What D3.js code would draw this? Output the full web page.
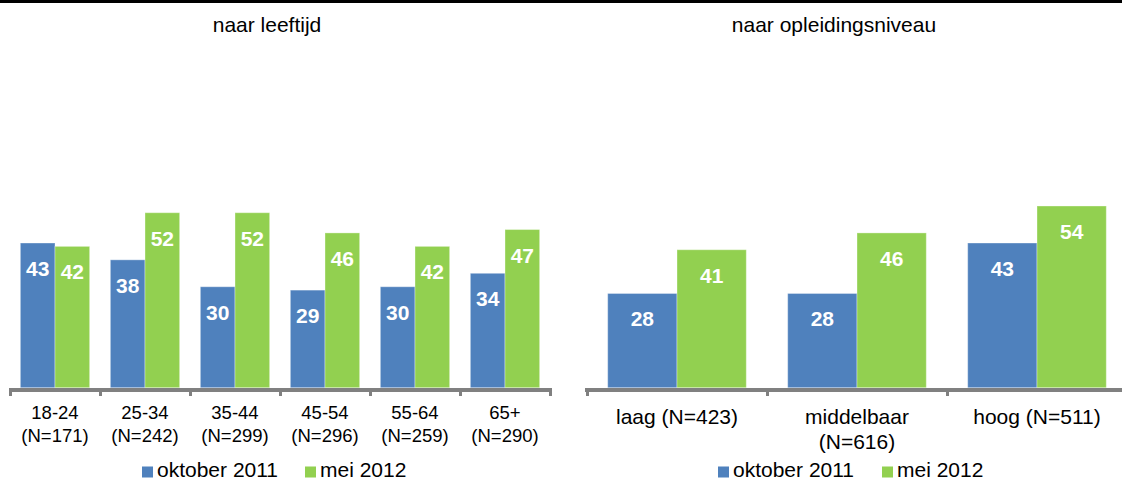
<!DOCTYPE html>
<html>
<head>
<meta charset="utf-8">
<script src="https://cdn.jsdelivr.net/npm/d3@7"></script>
<style>
  body { margin: 0; background: #fff; }
  svg { display: block; font-family: "Liberation Sans", Arial, sans-serif; }
</style>
</head>
<body>
<svg id="chart" width="1122" height="481"></svg>
<script>
// data
var series = ["oktober 2011", "mei 2012"];
var colors = ["#4f81bd", "#92d050"];

var ageCats = ["18-24", "25-34", "35-44", "45-54", "55-64", "65+"];
var ageN = ["(N=171)", "(N=242)", "(N=299)", "(N=296)", "(N=259)", "(N=290)"];
var ageOkt = [43, 38, 30, 29, 30, 34];
var ageMei = [42, 52, 52, 46, 42, 47];

var eduCats = ["laag (N=423)", "middelbaar", "hoog (N=511)"];
var eduLines = [["laag (N=423)"], ["middelbaar", "(N=616)"], ["hoog (N=511)"]];
var eduOkt = [28, 28, 43];
var eduMei = [41, 46, 54];

var svg = d3.select("#chart");

// black rule across the top
svg.append("rect").attr("x", 0).attr("y", 0).attr("width", 1122).attr("height", 3).attr("fill", "#000");

// shared value scale (both panels use the same)
var y = d3.scaleLinear().domain([0, 54]).range([387.7, 387.7 - 54 * 3.365]);

function panel(opts) {
  var g = svg.append("g");
  var x0 = d3.scaleBand().domain(opts.cats).range(opts.range).paddingInner(0.23).paddingOuter(0.115);
  var x1 = d3.scaleBand().domain(series).range([0, x0.bandwidth()]);

  var rows = opts.cats.map(function (c, i) {
    return { cat: c, vals: [opts.a[i], opts.b[i]] };
  });

  var grp = g.selectAll("g.cat").data(rows).enter().append("g")
    .attr("transform", function (d) { return "translate(" + x0(d.cat) + ",0)"; });

  grp.selectAll("rect").data(function (d) {
    return d.vals.map(function (v, j) { return { s: series[j], v: v, j: j }; });
  }).enter().append("rect")
    .attr("x", function (d) { return x1(d.s); })
    .attr("y", function (d) { return y(d.v); })
    .attr("width", x1.bandwidth())
    .attr("height", function (d) { return y(0) - y(d.v); })
    .attr("fill", function (d) { return colors[d.j]; })
    .attr("stroke", "#fff").attr("stroke-opacity", 0.35).attr("stroke-width", 1);

  grp.selectAll("text").data(function (d) {
    return d.vals.map(function (v, j) { return { s: series[j], v: v }; });
  }).enter().append("text")
    .attr("x", function (d) { return x1(d.s) + x1.bandwidth() / 2; })
    .attr("y", function (d) { return y(d.v) + 33; })
    .attr("text-anchor", "middle")
    .attr("fill", "#fff").attr("font-weight", "bold").attr("font-size", 21)
    .text(function (d) { return d.v; });

  // axis line + ticks
  g.append("rect").attr("x", opts.axisStart).attr("y", 388).attr("width", opts.axisEnd - opts.axisStart)
    .attr("height", 4).attr("fill", "#808080");
  var step = x0.step();
  var ticks = d3.range(opts.cats.length + 1).map(function (i) { return opts.range[0] + i * step; });
  g.selectAll("rect.tick").data(ticks).enter().append("rect").attr("class", "tick")
    .attr("x", function (d) { return d - 1; }).attr("y", 388).attr("width", 3).attr("height", 8)
    .attr("fill", "#808080");

  // category labels
  var lab = g.selectAll("text.cat").data(opts.cats).enter().append("text").attr("class", "cat")
    .attr("text-anchor", "middle").attr("font-size", opts.labelSize).attr("fill", "#000");
  lab.each(function (d, i) {
    var t = d3.select(this);
    opts.lines[i].forEach(function (line, k) {
      t.append("tspan").attr("x", x0(d) + x0.bandwidth() / 2)
        .attr("y", opts.labelY + k * opts.lineH).text(line);
    });
  });

  // title
  g.append("text").attr("x", opts.titleX).attr("y", 31.7).attr("text-anchor", "middle")
    .attr("font-size", 21).attr("fill", "#000").text(opts.title);

  // legend
  series.forEach(function (s, j) {
    g.append("rect").attr("x", opts.legX[j]).attr("y", 466.5).attr("width", 11).attr("height", 11)
      .attr("fill", colors[j]);
    g.append("text").attr("x", opts.legX[j] + 15).attr("y", 476.5).attr("font-size", 21)
      .attr("fill", "#000").text(s);
  });
}

panel({
  cats: ageCats, a: ageOkt, b: ageMei,
  lines: ageCats.map(function (c, i) { return [c, ageN[i]]; }),
  range: [10, 550], axisStart: 10, axisEnd: 552,
  labelSize: 18.5, labelY: 419.3, lineH: 22.4,
  title: "naar leeftijd", titleX: 267, legX: [142, 305]
});

panel({
  cats: eduCats, a: eduOkt, b: eduMei, lines: eduLines,
  range: [587, 1127], axisStart: 585, axisEnd: 1122,
  labelSize: 21, labelY: 423.5, lineH: 25,
  title: "naar opleidingsniveau", titleX: 834, legX: [718, 882]
});
</script>
</body>
</html>
